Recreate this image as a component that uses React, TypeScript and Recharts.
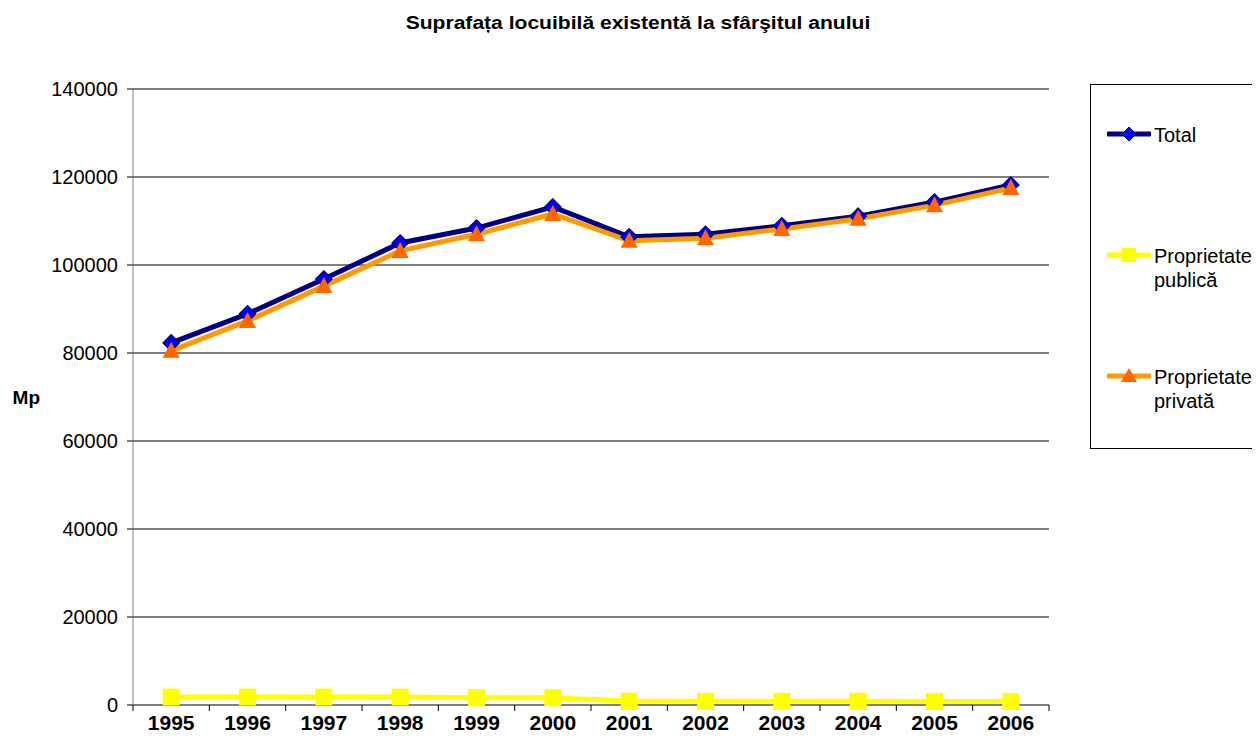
import React from 'react';
import { LineChart, Line, XAxis, YAxis, CartesianGrid } from 'recharts';

const years = ['1995', '1996', '1997', '1998', '1999', '2000', '2001', '2002', '2003', '2004', '2005', '2006'];
const totalValues = [82300, 88900, 96800, 105000, 108400, 113200, 106400, 107000, 108900, 111100, 114300, 118200];
const publicValues = [1800, 1800, 1800, 1800, 1650, 1650, 850, 850, 850, 850, 800, 800];
const privateValues = [80500, 87300, 95200, 103200, 107000, 111600, 105500, 106100, 108200, 110500, 113600, 117500];
const yTicks = [0, 20000, 40000, 60000, 80000, 100000, 120000, 140000];

const seriesNames = ['Total', 'Proprietate publică', 'Proprietate privată'];

const data = years.map((y, i) => ({
  year: y,
  total: totalValues[i],
  pub: publicValues[i],
  priv: privateValues[i],
}));

const FONT = '"Liberation Sans", Arial, sans-serif';
const X_TICK_SIZE = 6;
const X_TICK_MARGIN = 4;

const Diamond = (props: any) => {
  const { cx, cy, index } = props;
  if (cx == null || cy == null) return <g key={`dm-${index}`} />;
  const r = 8;
  return (
    <path
      key={`dm-${index}`}
      d={`M${cx},${cy - r}L${cx + r},${cy}L${cx},${cy + r}L${cx - r},${cy}Z`}
      fill="#0000FF"
      stroke="#000080"
      strokeWidth={1.5}
    />
  );
};

const Square = (props: any) => {
  const { cx, cy, index } = props;
  if (cx == null || cy == null) return <g key={`sq-${index}`} />;
  const h = 8.5;
  return <rect key={`sq-${index}`} x={cx - h} y={cy - h} width={2 * h} height={2 * h} fill="#FFFF00" />;
};

const Triangle = (props: any) => {
  const { cx, cy, index } = props;
  if (cx == null || cy == null) return <g key={`tr-${index}`} />;
  return (
    <path
      key={`tr-${index}`}
      d={`M${cx},${cy - 9}L${cx + 8.5},${cy + 7}L${cx - 8.5},${cy + 7}Z`}
      fill="#FF6600"
    />
  );
};

const YearTick = (props: any) => {
  const { x, y, payload, index, visibleTicksCount } = props;
  const half = payload && payload.offset ? payload.offset : 0;
  const axisY = y - X_TICK_SIZE - X_TICK_MARGIN;
  const isLast = index === (visibleTicksCount ?? years.length) - 1;
  return (
    <g key={`yt-${index}`}>
      <line x1={x - half} x2={x - half} y1={axisY} y2={axisY + 6} stroke="#000" strokeWidth={1} />
      {isLast && <line x1={x + half} x2={x + half} y1={axisY} y2={axisY + 6} stroke="#000" strokeWidth={1} />}
      <text
        x={x}
        y={y}
        dy="0.71em"
        textAnchor="middle"
        fill="#000"
        fontSize={21}
        fontWeight="bold"
        fontFamily={FONT}
      >
        {payload.value}
      </text>
    </g>
  );
};

const legendItems = [
  { name: seriesNames[0], color: '#000080', marker: 'diamond', top: 133, lines: ['Total'] },
  { name: seriesNames[1], color: '#FFFF00', marker: 'square', top: 254, lines: ['Proprietate', 'publică'] },
  { name: seriesNames[2], color: '#FF9900', marker: 'triangle', top: 375, lines: ['Proprietate', 'privată'] },
];

const LegendIcon = ({ color, marker }: { color: string; marker: string }) => (
  <svg width={44} height={20} style={{ display: 'block' }}>
    <line x1={1} y1={10} x2={43} y2={10} stroke={color} strokeWidth={5} strokeLinecap="round" />
    {marker === 'diamond' && <path d="M22,3L29,10L22,17L15,10Z" fill="#0000FF" stroke="#000080" strokeWidth={1} />}
    {marker === 'square' && <rect x={15} y={3} width={14} height={14} fill="#FFFF00" />}
    {marker === 'triangle' && <path d="M22,2L30,16L14,16Z" fill="#FF6600" />}
  </svg>
);

export default function App() {
  return (
    <div style={{ position: 'relative', width: 1260, height: 744, margin: '-8px -8px -8px -8px', overflow: 'hidden', background: '#fff', fontFamily: FONT }}>
      <div
        style={{
          position: 'absolute',
          left: 338,
          top: 12,
          width: 600,
          textAlign: 'center',
          fontSize: 18,
          fontWeight: 'bold',
          lineHeight: '22px',
          color: '#000',
          whiteSpace: 'nowrap',
          transform: 'scaleX(1.17)',
          transformOrigin: '300px 11px',
        }}
      >
        Suprafața locuibilă existentă la sfârşitul anului
      </div>

      <LineChart
        width={1260}
        height={744}
        data={data}
        margin={{ top: 89, right: 211, bottom: 0, left: 73 }}
        style={{ position: 'absolute', left: 0, top: 0 }}
      >
        <CartesianGrid vertical={false} stroke="#000" horizontalValues={yTicks} />
        <XAxis
          dataKey="year"
          scale="band"
          axisLine={{ stroke: '#808080' }}
          tickLine={false}
          tickSize={X_TICK_SIZE}
          tickMargin={X_TICK_MARGIN}
          height={39}
          interval={0}
          tick={YearTick}
        />
        <YAxis
          domain={[0, 140000]}
          ticks={yTicks}
          width={60}
          interval={0}
          tickSize={6}
          tickMargin={9}
          axisLine={{ stroke: '#808080' }}
          tickLine={{ stroke: '#000' }}
          tick={{ fill: '#000', fontSize: 20, fontFamily: FONT }}
          label={{ value: 'Mp', position: 'left', offset: 33, fill: '#000', fontSize: 19, fontWeight: 'bold', fontFamily: FONT }}
        />
        <YAxis
          yAxisId="right"
          orientation="right"
          domain={[0, 140000]}
          width={0}
          tick={false}
          tickLine={false}
          axisLine={{ stroke: '#808080' }}
        />
        <Line
          type="linear"
          dataKey="total"
          name={seriesNames[0]}
          stroke="#000080"
          strokeWidth={5}
          dot={Diamond}
          activeDot={false}
          isAnimationActive={false}
        />
        <Line
          type="linear"
          dataKey="pub"
          name={seriesNames[1]}
          stroke="#FFFF00"
          strokeWidth={5}
          dot={Square}
          activeDot={false}
          isAnimationActive={false}
        />
        <Line
          type="linear"
          dataKey="priv"
          name={seriesNames[2]}
          stroke="#FF9900"
          strokeWidth={5}
          dot={Triangle}
          activeDot={false}
          isAnimationActive={false}
        />
      </LineChart>

      <div
        style={{
          position: 'absolute',
          left: 1090,
          top: 84,
          width: 200,
          height: 363,
          border: '1px solid #000',
          background: '#fff',
        }}
      >
        {legendItems.map((it) => (
          <div key={it.name} style={{ position: 'absolute', left: 16, top: it.top - 84 - 11, display: 'flex', alignItems: 'flex-start' }}>
            <div style={{ marginTop: 1 }}>
              <LegendIcon color={it.color} marker={it.marker} />
            </div>
            <div style={{ marginLeft: 3, fontSize: 20, lineHeight: '24px', color: '#000', whiteSpace: 'nowrap' }}>
              {it.lines.map((l) => (
                <div key={l}>{l}</div>
              ))}
            </div>
          </div>
        ))}
      </div>
    </div>
  );
}
